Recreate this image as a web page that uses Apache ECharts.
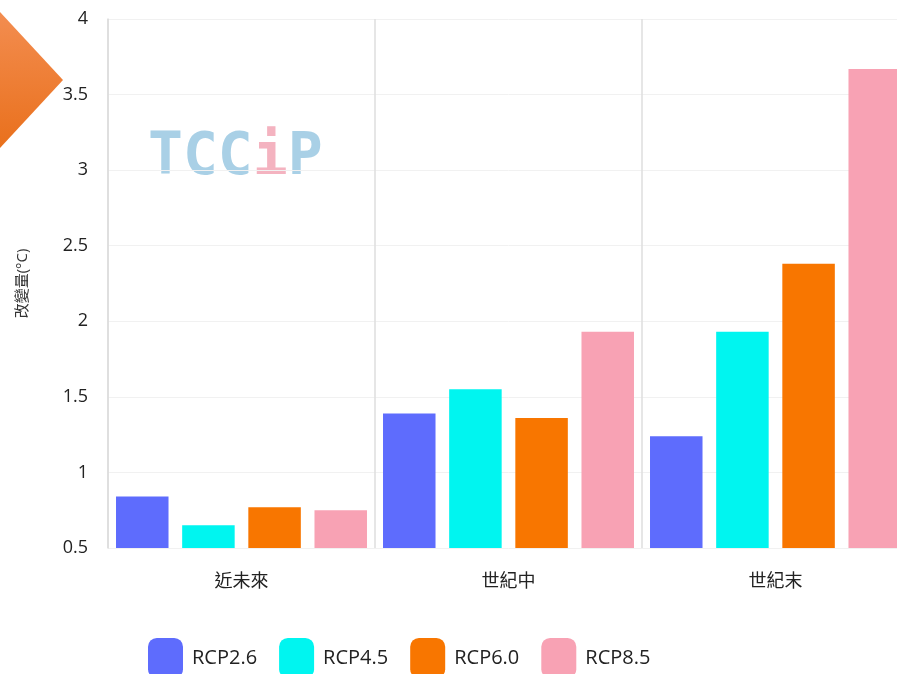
<!DOCTYPE html>
<html>
<head>
<meta charset="UTF-8">
<title>TCCIP 溫度改變量</title>
<script src="https://cdn.jsdelivr.net/npm/echarts@6/dist/echarts.min.js"></script>
<style>
  html, body { margin: 0; padding: 0; background: #fff; overflow: hidden; }
  #main { width: 909px; height: 674px; }
</style>
</head>
<body>
<div id="main"></div>
<script>
// 資料
var categories = ['近未來', '世紀中', '世紀末'];
var seriesNames = ['RCP2.6', 'RCP4.5', 'RCP6.0', 'RCP8.5'];
var rcp26 = [0.84, 1.39, 1.24];
var rcp45 = [0.65, 1.55, 1.93];
var rcp60 = [0.77, 1.36, 2.38];
var rcp85 = [0.75, 1.93, 3.67];
var colors = ['#5e6cfd', '#00f5f0', '#f87600', '#f8a2b4'];

var chart = echarts.init(document.getElementById('main'));
var font = '"Open Sans", "Noto Sans CJK TC", sans-serif';

var allData = [rcp26, rcp45, rcp60, rcp85];
var series = seriesNames.map(function (name, i) {
  return {
    name: name,
    type: 'bar',
    data: allData[i],
    itemStyle: { color: colors[i] },
    barGap: '26%',
    barCategoryGap: '6%'
  };
});

var option = {
  animation: false,
  textStyle: { fontFamily: font },
  grid: { left: 108, right: 0, top: 19, bottom: 126 },
  legend: {
    data: seriesNames,
    bottom: -9,
    left: 143,
    itemWidth: 35,
    itemHeight: 40,
    itemGap: 22,
    icon: 'roundRect',
    textStyle: { fontSize: 20, color: '#222', fontFamily: font, padding: [0, 0, 0, 4] }
  },
  xAxis: {
    type: 'category',
    data: categories,
    axisLine: { show: false },
    axisTick: { show: false },
    axisLabel: { fontSize: 18, color: '#222', margin: 25 },
    splitLine: { show: true, lineStyle: { color: '#dedede', width: 1.5 } }
  },
  yAxis: {
    type: 'value',
    min: 0.5,
    max: 4,
    interval: 0.5,
    name: '改變量(°C)',
    nameLocation: 'middle',
    nameRotate: 90,
    nameGap: 78,
    nameTextStyle: { fontSize: 15, color: '#333' },
    axisLine: { show: true, lineStyle: { color: '#dcdcdc', width: 1.5 } },
    axisTick: { show: false },
    axisLabel: { fontSize: 18, color: '#222', margin: 20 },
    splitLine: { lineStyle: { color: '#f1f1f1' } }
  },
  graphic: [
    {
      type: 'polygon',
      shape: { points: [[0, 12], [63, 80], [0, 148]] },
      style: {
        fill: new echarts.graphic.LinearGradient(0, 0, 0, 1, [
          { offset: 0, color: '#f38d50' },
          { offset: 1, color: '#e9701c' }
        ])
      },
      z: 10
    },
    {
      type: 'text',
      left: 148,
      top: 130,
      style: {
        text: '{a|TCC}{b|i}{a|P}',
        rich: {
          a: { fontSize: 58, fontWeight: 'bold', fontFamily: '"DejaVu Sans Mono", monospace', fill: '#a9d0e6' },
          b: { fontSize: 58, fontWeight: 'bold', fontFamily: '"DejaVu Sans Mono", monospace', fill: '#f4b3c0' }
        }
      },
      z: 0
    }
  ],
  series: series
};

chart.setOption(option);
</script>
</body>
</html>
